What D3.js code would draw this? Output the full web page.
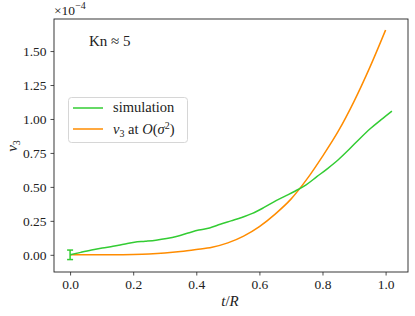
<!DOCTYPE html>
<html>
<head>
<meta charset="utf-8">
<script src="https://cdn.jsdelivr.net/npm/d3@7"></script>
<style>
  body { margin: 0; background: #fff; }
  text { font-family: "Liberation Serif", "DejaVu Serif", serif; fill: #222; }
</style>
</head>
<body>
<script>
// simulation (green) and O(sigma^2) prediction (orange), values in units of 1e-4
const simT = [0, 0.034, 0.068, 0.102, 0.136, 0.17, 0.204, 0.238, 0.272, 0.306, 0.34, 0.374, 0.408, 0.442, 0.476,
              0.51, 0.544, 0.578, 0.612, 0.646, 0.68, 0.714, 0.748, 0.782, 0.816, 0.85, 0.884, 0.918, 0.952, 0.986, 1.02];
const simV = [0, 0.018, 0.035, 0.05, 0.063, 0.078, 0.093, 0.1, 0.108, 0.12, 0.137, 0.16, 0.182, 0.198, 0.225,
              0.25, 0.275, 0.305, 0.345, 0.39, 0.43, 0.47, 0.515, 0.575, 0.635, 0.70, 0.775, 0.855, 0.93, 0.995, 1.058];
const simErr = [0.035]; // error bar at t = 0

const theoT = [0, 0.05, 0.1, 0.15, 0.2, 0.25, 0.3, 0.35, 0.4, 0.45, 0.5, 0.55, 0.6, 0.65, 0.7, 0.75, 0.8, 0.85, 0.9, 0.95, 1.0];
const theoV = [0, 0, 0.0002, 0.0008, 0.0025, 0.006, 0.013, 0.024, 0.039, 0.056, 0.088, 0.138, 0.208, 0.3, 0.41, 0.555, 0.725, 0.91, 1.13, 1.38, 1.655];

const xTicks = [0, 0.2, 0.4, 0.6, 0.8, 1.0];
const yTicks = [0, 0.25, 0.5, 0.75, 1.0, 1.25, 1.5];
const legendLabels = ["simulation", "v3 at O(σ2)"];
const colors = ["#33cc33", "#ff8c00"];

const W = 415, H = 316;
const m = { left: 54, right: 7, top: 19, bottom: 44 };

const svg = d3.select("body").append("svg")
  .attr("width", W)
  .attr("height", H);

const x = d3.scaleLinear().domain([-0.051, 1.071]).range([m.left, W - m.right]);
const y = d3.scaleLinear().domain([-0.1265, 1.736]).range([H - m.bottom, m.top]);

// axes
const xAxis = svg.append("g")
  .attr("transform", `translate(0,${H - m.bottom})`)
  .call(d3.axisBottom(x).tickValues(xTicks).tickFormat(d3.format(".1f")).tickSize(3.5).tickPadding(4));
const yAxis = svg.append("g")
  .attr("transform", `translate(${m.left},0)`)
  .call(d3.axisLeft(y).tickValues(yTicks).tickFormat(d3.format(".2f")).tickSize(3.5).tickPadding(4));
[xAxis, yAxis].forEach(g => {
  g.select(".domain").remove();
  g.selectAll("line").attr("stroke", "#222").attr("stroke-width", 0.8);
  g.selectAll("text").style("font-size", "13.5px").attr("fill", "#222");
});

// frame
svg.append("rect")
  .attr("x", m.left).attr("y", m.top)
  .attr("width", W - m.left - m.right).attr("height", H - m.top - m.bottom)
  .attr("fill", "none").attr("stroke", "#222").attr("stroke-width", 0.9);

const line = d3.line().x(d => x(d[0])).y(d => y(d[1])).curve(d3.curveMonotoneX);

svg.append("path")
  .datum(theoT.map((t, i) => [t, theoV[i]]))
  .attr("d", line)
  .attr("fill", "none").attr("stroke", colors[1]).attr("stroke-width", 1.5);

svg.append("path")
  .datum(simT.map((t, i) => [t, simV[i]]))
  .attr("d", line)
  .attr("fill", "none").attr("stroke", colors[0]).attr("stroke-width", 1.5);

// error bar at the first sim point
const eb = svg.append("g").attr("stroke", colors[0]).attr("stroke-width", 1.5);
eb.append("line")
  .attr("x1", x(simT[0])).attr("x2", x(simT[0]))
  .attr("y1", y(simV[0] - simErr[0])).attr("y2", y(simV[0] + simErr[0]));
[-1, 1].forEach(s => {
  eb.append("line")
    .attr("x1", x(simT[0]) - 3).attr("x2", x(simT[0]) + 3)
    .attr("y1", y(simV[0] + s * simErr[0])).attr("y2", y(simV[0] + s * simErr[0]));
});

// scale factor
const sf = svg.append("text").attr("x", m.left).attr("y", 15).style("font-size", "13.5px");
sf.append("tspan").text("×10");
sf.append("tspan").attr("dy", -6).style("font-size", "10px").text("−4");

// annotation
svg.append("text").attr("x", 89).attr("y", 46).style("font-size", "15px").text("Kn ≈ 5");

// legend
const lg = svg.append("g");
lg.append("rect")
  .attr("x", 68.5).attr("y", 97.5).attr("width", 119).attr("height", 45).attr("rx", 3)
  .attr("fill", "#fff").attr("fill-opacity", 0.8).attr("stroke", "#d6d6d6").attr("stroke-width", 1);
[108, 129].forEach((ly, i) => {
  lg.append("line")
    .attr("x1", 73).attr("x2", 103).attr("y1", ly).attr("y2", ly)
    .attr("stroke", colors[i]).attr("stroke-width", 1.5);
});
lg.append("text").attr("x", 113).attr("y", 112).style("font-size", "14.5px").text(legendLabels[0]);
const l2 = lg.append("text").attr("x", 113).attr("y", 134).style("font-size", "14.5px");
l2.append("tspan").style("font-style", "italic").text("v");
l2.append("tspan").attr("dy", 3).style("font-size", "10px").text("3");
l2.append("tspan").attr("dy", -3).text(" at ");
l2.append("tspan").style("font-style", "italic").text("O");
l2.append("tspan").text("(");
l2.append("tspan").style("font-style", "italic").text("σ");
l2.append("tspan").attr("dy", -5).style("font-size", "10px").text("2");
l2.append("tspan").attr("dy", 5).text(")");

// axis labels
const xl = svg.append("text").attr("x", 230).attr("y", 306).attr("text-anchor", "middle").style("font-size", "15px");
xl.append("tspan").style("font-style", "italic").text("t");
xl.append("tspan").text("/");
xl.append("tspan").style("font-style", "italic").text("R");

const yl = svg.append("text").attr("transform", "translate(17,146) rotate(-90)").attr("text-anchor", "middle").style("font-size", "15px");
yl.append("tspan").style("font-style", "italic").text("v");
yl.append("tspan").attr("dy", 3).style("font-size", "10px").text("3");
</script>
</body>
</html>
